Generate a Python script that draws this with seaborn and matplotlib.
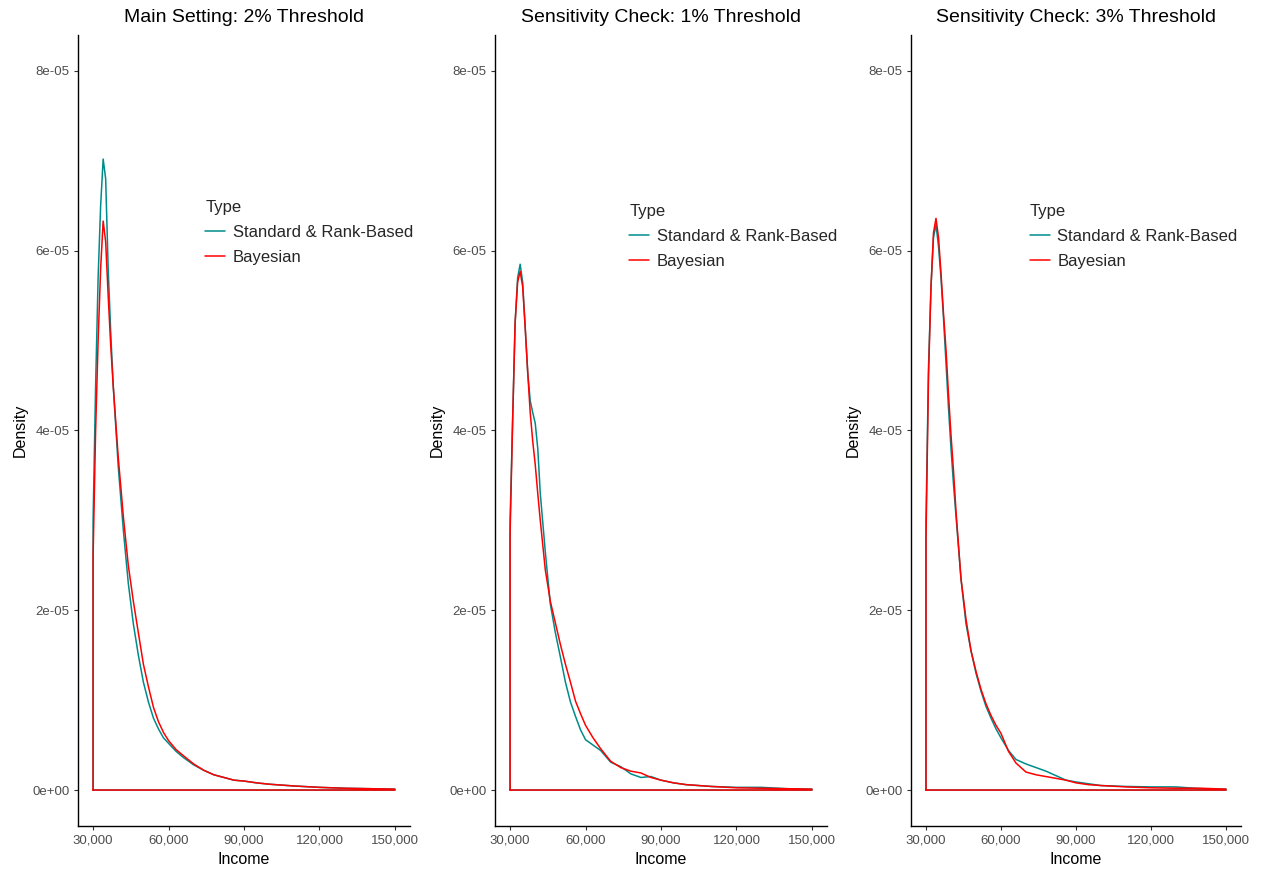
import matplotlib
matplotlib.use("Agg")
import matplotlib.pyplot as plt
import matplotlib.ticker as mticker
import numpy as np
import pandas as pd
import seaborn as sns

# Shared income grid for the density estimates
income = [30000, 31000, 32000, 33000, 34000, 35000, 36000, 37000, 38000, 39000,
          40000, 41000, 42000, 44000, 46000, 48000, 50000, 52000, 54000, 56000,
          58000, 60000, 63000, 66000, 70000, 74000, 78000, 82000, 86000, 90000,
          95000, 100000, 110000, 120000, 130000, 140000, 150000]

# Density values (in units of 1e-5) per threshold setting and method
main_standard = [3.0, 4.5, 5.7, 6.5, 7.02, 6.8, 5.8, 5.1, 4.5, 4.05,
                 3.6, 3.25, 2.9, 2.3, 1.85, 1.5, 1.2, 0.98, 0.8, 0.68,
                 0.58, 0.52, 0.43, 0.36, 0.28, 0.22, 0.17, 0.14, 0.11, 0.1,
                 0.08, 0.065, 0.045, 0.03, 0.02, 0.015, 0.01]
main_bayes = [2.6, 4.0, 5.0, 5.8, 6.33, 6.1, 5.5, 4.95, 4.5, 4.1,
              3.7, 3.38, 3.05, 2.5, 2.1, 1.75, 1.4, 1.15, 0.92, 0.76,
              0.64, 0.55, 0.45, 0.38, 0.29, 0.22, 0.17, 0.14, 0.11, 0.1,
              0.08, 0.065, 0.045, 0.03, 0.02, 0.015, 0.01]

s1_standard = [3.0, 4.1, 5.2, 5.7, 5.85, 5.65, 5.15, 4.65, 4.33, 4.2,
               4.08, 3.8, 3.3, 2.65, 2.07, 1.75, 1.48, 1.2, 0.98, 0.82,
               0.67, 0.56, 0.5, 0.44, 0.31, 0.26, 0.18, 0.14, 0.15, 0.11,
               0.08, 0.06, 0.04, 0.03, 0.03, 0.015, 0.01]
s1_bayes = [2.85, 4.1, 5.2, 5.65, 5.77, 5.6, 5.15, 4.65, 4.2, 3.88,
            3.62, 3.3, 3.0, 2.45, 2.1, 1.86, 1.62, 1.4, 1.2, 0.99,
            0.85, 0.72, 0.58, 0.46, 0.32, 0.25, 0.21, 0.19, 0.14, 0.11,
            0.08, 0.06, 0.04, 0.025, 0.02, 0.015, 0.01]

s3_standard = [3.0, 4.7, 5.6, 6.15, 6.29, 6.05, 5.7, 5.25, 4.75, 4.25,
               3.8, 3.4, 3.05, 2.35, 1.85, 1.55, 1.3, 1.1, 0.93, 0.8,
               0.68, 0.58, 0.44, 0.34, 0.29, 0.25, 0.21, 0.16, 0.11, 0.09,
               0.07, 0.05, 0.04, 0.035, 0.035, 0.015, 0.01]
s3_bayes = [2.8, 4.6, 5.6, 6.2, 6.36, 6.15, 5.75, 5.3, 4.9, 4.4,
            3.95, 3.55, 3.1, 2.35, 1.9, 1.55, 1.32, 1.12, 0.96, 0.83,
            0.72, 0.63, 0.43, 0.3, 0.2, 0.17, 0.15, 0.13, 0.11, 0.08,
            0.06, 0.05, 0.035, 0.025, 0.02, 0.02, 0.01]

titles = ["Main Setting: 2% Threshold",
          "Sensitivity Check: 1% Threshold",
          "Sensitivity Check: 3% Threshold"]
types = ["Standard & Rank-Based", "Bayesian"]
palette = {"Standard & Rank-Based": "#008B8B", "Bayesian": "#FF0000"}
x_ticks = [30000, 60000, 90000, 120000, 150000]
y_ticks = [0, 2e-05, 4e-05, 6e-05, 8e-05]

panels = [(main_standard, main_bayes),
          (s1_standard, s1_bayes),
          (s3_standard, s3_bayes)]


def outline(values, label):
    """Closed density outline: up the left edge, along the curve, back on the baseline."""
    xs = [income[0]] + income + [income[-1], income[0]]
    ys = [0.0] + [v * 1e-5 for v in values] + [0.0, 0.0]
    return pd.DataFrame({"Income": xs, "Density": ys, "Type": label,
                         "order": np.arange(len(xs))})


sns.set_theme(style="ticks")
plt.rcParams["font.family"] = ["Liberation Sans", "DejaVu Sans"]

fig = plt.figure(figsize=(12.61, 8.72), dpi=100)
W, H = 1261, 872
lefts = [78, 495, 911]
widths = [332, 332, 330]
top_px, bottom_px = 35, 826
legend_anchor = [(0.383, 0.792), (0.404, 0.786), (0.36, 0.786)]

for i, (std_vals, bay_vals) in enumerate(panels):
    ax = fig.add_axes([lefts[i] / W, (H - bottom_px) / H,
                       widths[i] / W, (bottom_px - top_px) / H])
    df = pd.concat([outline(std_vals, types[0]), outline(bay_vals, types[1])],
                   ignore_index=True)
    sns.lineplot(data=df, x="Income", y="Density", hue="Type",
                 hue_order=types, palette=palette, sort=False,
                 estimator=None, units="Type", linewidth=1.1,
                 legend=False, ax=ax)

    ax.set_xlim(24000, 156000)
    ax.set_ylim(-0.4e-05, 8.4e-05)
    ax.set_xticks(x_ticks)
    ax.set_yticks(y_ticks)
    ax.xaxis.set_major_formatter(mticker.FuncFormatter(lambda v, p: f"{int(v):,}"))
    ax.yaxis.set_major_formatter(mticker.FuncFormatter(lambda v, p: f"{v:.0e}"))
    ax.tick_params(axis="both", colors="#333333", labelcolor="#4D4D4D",
                   labelsize=9.5, length=3.2, width=0.8, pad=3)
    for side in ("top", "right"):
        ax.spines[side].set_visible(False)
    for side in ("left", "bottom"):
        ax.spines[side].set_color("black")
        ax.spines[side].set_linewidth(1.0)

    ax.set_xlabel("Income", fontsize=11.5, color="black", labelpad=4)
    ax.set_ylabel("Density", fontsize=11.5, color="black", labelpad=3.5)
    ax.set_title(titles[i], fontsize=14, color="black", pad=9)

    handles = ax.get_lines()[:2]
    ax.legend(handles=handles, labels=types, title="Type",
              loc="upper left", bbox_to_anchor=legend_anchor[i],
              frameon=False, fontsize=12, title_fontsize=12,
              handlelength=1.2, handletextpad=0.45, labelspacing=0.6,
              borderpad=0, borderaxespad=0, alignment="left")

fig.savefig("out.png", dpi=100)
